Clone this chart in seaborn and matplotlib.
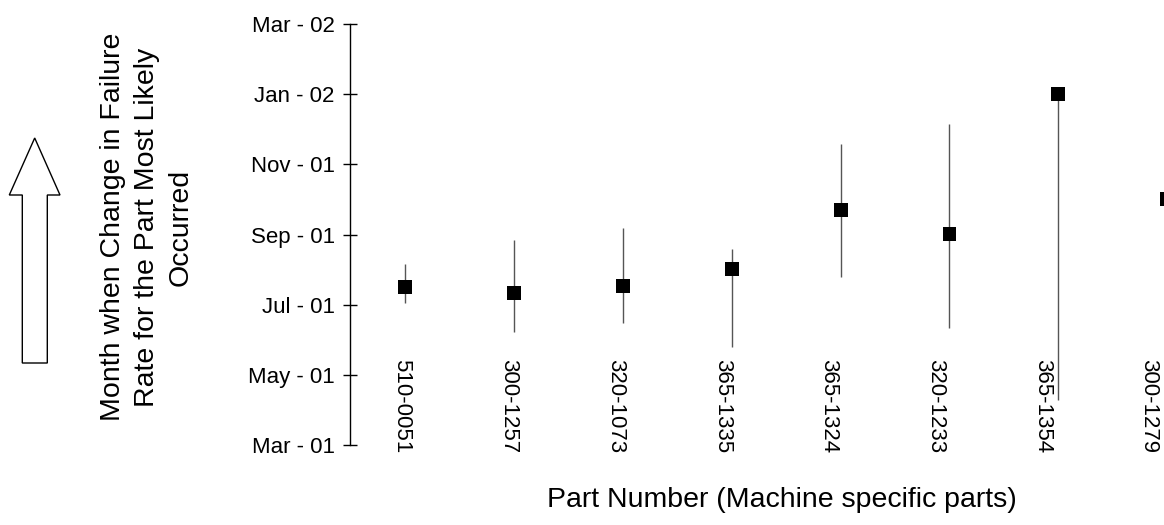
import numpy as np
import pandas as pd
import matplotlib
matplotlib.use("Agg")
import matplotlib.pyplot as plt
from matplotlib.patches import Polygon
import seaborn as sns

# ---- data (months since Mar-01) ----
parts = ['510-0051', '300-1257', '320-1073', '365-1335',
         '365-1324', '320-1233', '365-1354', '300-1279']
likely = [4.50, 4.32, 4.53, 5.01, 6.70, 6.01, 10.00, 7.00]
lower = [4.04, 3.23, 3.47, 2.80, 4.78, 3.34, 1.28, 7.00]
upper = [5.15, 5.83, 6.19, 5.58, 8.58, 9.15, 10.00, 7.00]
month_ticks = [0, 2, 4, 6, 8, 10, 12]
month_labels = ['Mar - 01', 'May - 01', 'Jul - 01', 'Sep - 01',
                'Nov - 01', 'Jan - 02', 'Mar - 02']

df = pd.DataFrame({'part': parts, 'likely': likely,
                   'lower': lower, 'upper': upper})

sns.set_style('white')
plt.rcParams['font.family'] = ['Liberation Sans', 'DejaVu Sans']
plt.rcParams['text.color'] = 'black'
plt.rcParams['axes.labelcolor'] = 'black'
plt.rcParams['xtick.color'] = 'black'
plt.rcParams['ytick.color'] = 'black'

W, H = 1164, 525
fig = plt.figure(figsize=(W / 100, H / 100), dpi=100)
ax = fig.add_axes([350 / W, 80 / H, (W - 350) / W, 421 / H])

ax.vlines(df['part'], df['lower'], df['upper'], color='#555555', lw=1.0, zorder=2)
sns.scatterplot(data=df, x='part', y='likely', marker='s', s=100,
                color='black', edgecolor='none', ax=ax, zorder=3)

ax.set_ylim(0, 12)
ax.set_xlim(-0.5055, 6.97)
ax.set_yticks(month_ticks)
ax.set_yticklabels(month_labels, fontsize=16)
ax.tick_params(axis='y', direction='inout', length=10, width=1,
               color='black', pad=6, left=True)
ax.tick_params(axis='x', length=0, labelbottom=False)

for side in ['top', 'right', 'bottom']:
    ax.spines[side].set_visible(False)
ax.spines['left'].set_color('black')
ax.spines['left'].set_linewidth(1.0)

# category labels on a companion axis (Excel-style label placement)
ax2 = ax.twiny()
ax2.set_xlim(-0.487, 7.14)
ax2.set_xticks(range(len(parts)))
ax2.set_xticklabels(parts, rotation=-90, fontsize=16)
ax2.xaxis.set_ticks_position('bottom')
ax2.tick_params(axis='x', length=0, pad=-61.9, top=False, labeltop=False,
                bottom=False, labelbottom=True)
for side in ax2.spines.values():
    side.set_visible(False)

ax.set_xlabel('Part Number (Machine specific parts)', fontsize=20.5, va='center')
ax.xaxis.set_label_coords((782 - 350) / (W - 350), (445 - 500) / 421)
ax.set_ylabel('Month when Change in Failure\nRate for the Part Most Likely\nOccurred',
              fontsize=20.5, va='center', ha='center', linespacing=1.4)
ax.yaxis.set_label_coords((147 - 350) / (W - 350), (445 - 227) / 421)

# block arrow pointing up (figure pixel coords from top)
pts = [(34.7, 138), (60, 195), (47.3, 195), (47.3, 363),
       (22.3, 363), (22.3, 195), (9.3, 195)]
pts = [(x / W, 1 - y / H) for x, y in pts]
fig.patches.append(Polygon(pts, closed=True, facecolor='white', edgecolor='black',
                           lw=1.0, transform=fig.transFigure, figure=fig))

fig.savefig('out.png', dpi=100)
